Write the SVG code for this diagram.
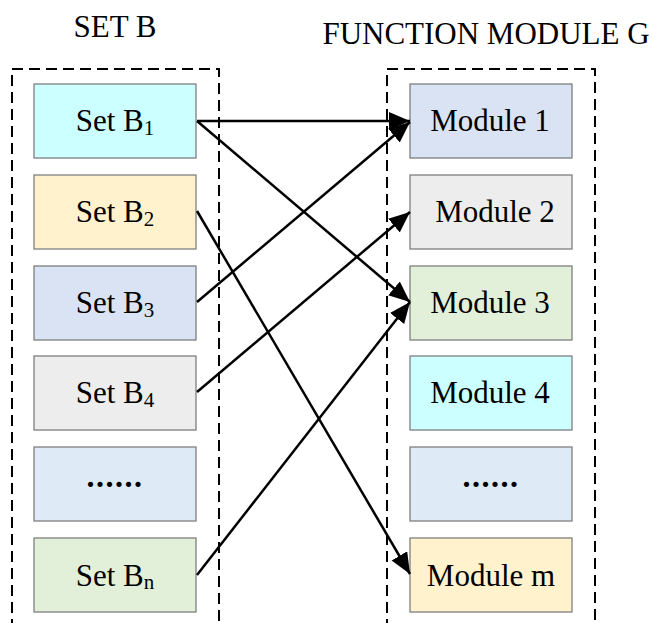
<svg xmlns="http://www.w3.org/2000/svg" width="656" height="623" viewBox="0 0 656 623">
<style>
.box{stroke:#7f7f7f;stroke-width:1.3}
.dash{fill:none;stroke:#000;stroke-width:2;stroke-dasharray:11,6}
.c{stroke:#000;stroke-width:2.5;fill:none;marker-end:url(#ah)}
</style>
<defs>
<marker id="ah" markerUnits="userSpaceOnUse" markerWidth="24" markerHeight="20" refX="21" refY="9" orient="auto">
<path d="M0,0 L21,9 L0,18 z" fill="#000"/>
</marker>
</defs>
<rect width="656" height="623" fill="#fff"/>
<g font-family="'Liberation Serif', 'Times New Roman', serif" font-size="31" fill="#000" text-anchor="middle">
<text x="115" y="37">SET B</text>
<text x="486" y="44">FUNCTION MODULE G</text>
</g>
<path class="dash" d="M12,630 V69 H219 V630"/>
<path class="dash" d="M387,630 V69 H595 V630"/>
<g font-family="'Liberation Serif', 'Times New Roman', serif" font-size="31" fill="#000" text-anchor="middle">
<g id="setB1"><rect class="box" x="34" y="84" width="162" height="74" fill="#ccffff"/><text x="115" y="131">Set B<tspan font-size="21" dy="4">1</tspan></text></g>
<g id="setB2"><rect class="box" x="34" y="175" width="162" height="74" fill="#fff2cc"/><text x="115" y="222">Set B<tspan font-size="21" dy="4">2</tspan></text></g>
<g id="setB3"><rect class="box" x="34" y="266" width="162" height="74" fill="#dae3f3"/><text x="115" y="313">Set B<tspan font-size="21" dy="4">3</tspan></text></g>
<g id="setB4"><rect class="box" x="34" y="356" width="162" height="74" fill="#ededed"/><text x="115" y="403">Set B<tspan font-size="21" dy="4">4</tspan></text></g>
<g id="setBdots"><rect class="box" x="34" y="447" width="162" height="74" fill="#deebf7"/><text x="115" y="487" font-weight="bold" font-size="32" letter-spacing="1.5">......</text></g>
<g id="setBn"><rect class="box" x="34" y="538" width="162" height="74" fill="#e2f0d9"/><text x="115" y="586">Set B<tspan font-size="21" dy="3">n</tspan></text></g>
<g id="module1"><rect class="box" x="410" y="84" width="162" height="74" fill="#dae3f3"/><text x="490" y="131">Module 1</text></g>
<g id="module2"><rect class="box" x="410" y="175" width="162" height="74" fill="#ededed"/><text x="495" y="222">Module 2</text></g>
<g id="module3"><rect class="box" x="410" y="266" width="162" height="74" fill="#e2f0d9"/><text x="490" y="313">Module 3</text></g>
<g id="module4"><rect class="box" x="410" y="356" width="162" height="74" fill="#ccffff"/><text x="490" y="403">Module 4</text></g>
<g id="moduledots"><rect class="box" x="410" y="447" width="162" height="74" fill="#deebf7"/><text x="491" y="487" font-weight="bold" font-size="32" letter-spacing="1.5">......</text></g>
<g id="modulem"><rect class="box" x="410" y="538" width="162" height="74" fill="#fff2cc"/><text x="491" y="586">Module m</text></g>
</g>
<g id="connectors">
<line class="c" x1="197" y1="121" x2="410" y2="121"/>
<line class="c" x1="197" y1="121" x2="410" y2="302"/>
<line class="c" x1="197" y1="211" x2="410" y2="574"/>
<line class="c" x1="197" y1="302" x2="410" y2="122"/>
<line class="c" x1="197" y1="392" x2="410" y2="212"/>
<line class="c" x1="197" y1="575" x2="410" y2="302"/>
</g>
</svg>
